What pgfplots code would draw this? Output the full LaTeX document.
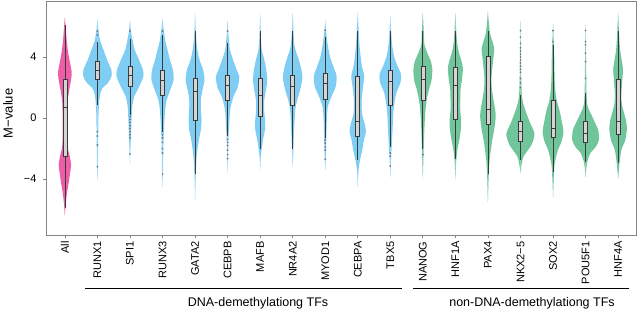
\documentclass[border=0pt]{standalone}
\usepackage{fontspec}
\setmainfont{Liberation Sans}
\usepackage{pgfplots}
\usepackage{pgfplotstable}
\pgfplotsset{compat=1.18}

\definecolor{vpink}{HTML}{EE5EA8}
\definecolor{vblue}{HTML}{7FCDF3}
\definecolor{vgreen}{HTML}{70C69A}
\definecolor{boxfill}{HTML}{D4D4D4}
\definecolor{boxline}{HTML}{3A3A3A}
\definecolor{frame}{HTML}{858585}

% violin outlines: y value, half width (in category units)
\pgfplotstableread{
y w
-6.4 0
-5.8 0.02
-5.0 0.06
-4.2 0.12
-3.6 0.16
-3.1 0.19
-2.5 0.15
-2.0 0.09
-1.3 0.07
0.0 0.07
1.0 0.08
1.8 0.13
2.5 0.19
3.0 0.21
3.6 0.16
4.3 0.10
5.0 0.06
5.8 0.03
6.6 0
}\vAll
\pgfplotstableread{
y w
-4.1 0
-3.0 0.015
-1.0 0.025
0.3 0.035
1.2 0.06
1.7 0.10
1.95 0.15
2.3 0.32
2.7 0.43
3.15 0.43
3.8 0.30
4.5 0.18
5.1 0.08
5.8 0.03
6.5 0
}\vRUNXa
\pgfplotstableread{
y w
-3.0 0
-2.0 0.015
-0.9 0.035
0.0 0.05
0.75 0.07
1.4 0.13
2.0 0.27
2.7 0.41
3.15 0.40
3.8 0.28
4.5 0.14
5.1 0.08
5.7 0.03
6.4 0
}\vSPI
\pgfplotstableread{
y w
-4.5 0
-3.5 0.015
-1.5 0.03
-0.55 0.05
0.55 0.08
1.2 0.13
1.85 0.24
2.5 0.34
3.15 0.32
3.8 0.23
4.5 0.15
5.0 0.09
5.55 0.05
6.5 0
}\vRUNXc
\pgfplotstableread{
y w
-5.4 0
-4.0 0.015
-3.0 0.035
-2.3 0.06
-1.4 0.12
-0.75 0.18
-0.1 0.20
0.55 0.18
1.2 0.18
1.85 0.23
2.5 0.29
3.15 0.25
3.8 0.14
4.5 0.07
5.5 0.025
6.9 0
}\vGATA
\pgfplotstableread{
y w
-3.6 0
-2.5 0.015
-1.2 0.03
-0.55 0.05
0.55 0.08
1.4 0.18
2.0 0.31
2.7 0.36
3.15 0.28
3.8 0.17
4.5 0.07
5.4 0.03
6.4 0
}\vCEBPB
\pgfplotstableread{
y w
-3.4 0
-2.5 0.02
-2.0 0.05
-1.4 0.09
-0.75 0.15
-0.1 0.15
0.55 0.12
1.2 0.13
1.85 0.18
2.5 0.22
3.15 0.19
3.8 0.13
4.5 0.05
5.5 0.02
6.9 0
}\vMAFB
\pgfplotstableread{
y w
-3.2 0
-2.2 0.02
-1.2 0.035
-0.55 0.05
0.55 0.08
1.2 0.14
1.85 0.23
2.6 0.30
3.15 0.27
3.8 0.19
4.5 0.08
5.1 0.04
6.9 0
}\vNR
\pgfplotstableread{
y w
-3.4 0
-2.4 0.02
-1.2 0.035
-0.1 0.05
0.74 0.08
1.4 0.19
2.05 0.32
2.75 0.35
3.37 0.25
4.0 0.15
4.9 0.07
5.6 0.03
6.4 0
}\vMYOD
\pgfplotstableread{
y w
-4.5 0
-3.5 0.02
-2.75 0.07
-2.1 0.14
-1.45 0.19
-0.9 0.25
-0.35 0.21
0.3 0.13
1.2 0.12
2.05 0.16
2.75 0.20
3.37 0.13
4.0 0.09
4.9 0.05
6.9 0
}\vCEBPA
\pgfplotstableread{
y w
-3.9 0
-2.8 0.02
-1.2 0.06
0.5 0.10
1.6 0.18
2.3 0.31
2.85 0.33
3.37 0.23
4.0 0.12
4.9 0.05
6.7 0
}\vTBX
\pgfplotstableread{
y w
-4.0 0
-2.5 0.02
-0.6 0.05
0.5 0.08
1.2 0.12
1.9 0.19
2.5 0.27
3.2 0.29
3.7 0.25
4.2 0.15
4.8 0.05
5.6 0.03
6.9 0
}\vNANOG
\pgfplotstableread{
y w
-4.0 0
-3.0 0.02
-2.1 0.06
-1.2 0.14
-0.35 0.18
0.5 0.15
1.2 0.15
1.9 0.16
2.49 0.20
3.25 0.23
3.8 0.18
4.2 0.12
4.8 0.06
5.6 0.03
6.9 0
}\vHNFa
\pgfplotstableread{
y w
-5.5 0
-4.0 0.02
-2.8 0.05
-1.6 0.12
-0.79 0.19
0.15 0.24
0.96 0.19
1.9 0.12
2.7 0.11
3.8 0.16
4.6 0.19
5.5 0.07
6.2 0.03
7.0 0
}\vPAX
\pgfplotstableread{
y w
-3.6 0
-3.0 0.04
-2.5 0.10
-1.9 0.30
-1.55 0.38
-1.0 0.43
-0.24 0.28
0.5 0.15
1.0 0.08
1.6 0.04
3.0 0.02
6.4 0
}\vNKX
\pgfplotstableread{
y w
-5.2 0
-4.0 0.02
-3.0 0.05
-2.1 0.15
-1.55 0.26
-0.9 0.32
-0.13 0.26
0.5 0.20
1.0 0.13
1.6 0.08
2.5 0.05
3.8 0.04
5.0 0.02
6.2 0
}\vSOX
\pgfplotstableread{
y w
-3.9 0
-3.2 0.03
-2.8 0.06
-2.3 0.15
-1.9 0.31
-1.45 0.41
-0.8 0.39
-0.35 0.30
0.2 0.18
0.6 0.09
0.9 0.05
1.6 0.03
3.0 0.02
6.2 0
}\vPOU
\pgfplotstableread{
y w
-4.0 0
-3.0 0.04
-2.1 0.10
-1.45 0.22
-0.7 0.27
-0.13 0.24
0.5 0.16
1.0 0.11
1.6 0.10
2.5 0.13
3.2 0.15
3.8 0.11
4.5 0.06
5.5 0.03
6.9 0
}\vHNFd

\newcommand{\violin}[3]{%
  \addplot[fill=#2, draw=none, smooth, tension=0.45, forget plot] table[x expr=#1+\thisrow{w}, y=y] {#3};
  \addplot[fill=#2, draw=none, smooth, tension=0.45, forget plot] table[x expr=#1-\thisrow{w}, y=y] {#3};
}
% position, lower whisker, lower quartile, median, upper quartile, upper whisker
\newcommand{\bx}[6]{%
  \addplot[forget plot, boxline, line width=0.7pt] table[row sep=\\, x expr=#1+\thisrow{d}, y=y] {d y\\ 0 #2\\ 0 #6\\};
  \addplot[forget plot, draw=boxline, fill=boxfill, line width=0.6pt] table[row sep=\\, x expr=#1+\thisrow{d}, y=y] {d y\\ -0.0625 #3\\ 0.0625 #3\\ 0.0625 #5\\ -0.0625 #5\\ -0.0625 #3\\} -- cycle;
  \addplot[forget plot, boxline, line width=0.7pt] table[row sep=\\, x expr=#1+\thisrow{d}, y=y] {d y\\ -0.0625 #4\\ 0.0625 #4\\};
}
\newcommand{\outl}[1]{%
  \addplot[forget plot, only marks, mark=*, mark size=0.65pt, color=black!55] coordinates {#1};
}

\begin{document}
\begin{tikzpicture}
\useasboundingbox (0,0) rectangle (638bp,311bp);
\begin{axis}[
  at={(46bp,76bp)}, anchor=south west,
  scale only axis, width=590bp, height=234bp,
  xmin=-0.58, xmax=17.55, ymin=-7.67, ymax=7.67,
  axis line style={frame, line width=0.9pt},
  tick style={frame, line width=0.7pt},
  tick align=outside, tick pos=left, major tick length=3bp,
  xtick={0,...,17},
  xticklabels={All,RUNX1,SPI1,RUNX3,GATA2,CEBPB,MAFB,NR4A2,MYOD1,CEBPA,TBX5,NANOG,HNF1A,PAX4,NKX2−5,SOX2,POU5F1,HNF4A},
  x tick label style={rotate=90, anchor=east, font=\fontsize{11bp}{11bp}\selectfont},
  ytick={-4,0,4}, yticklabels={−4,0,4},
  y tick label style={font=\fontsize{11bp}{11bp}\selectfont, xshift=-3bp},
  ylabel={M−value},
  ylabel style={at={(axis description cs:-0.0644,0.52)}, anchor=center, font=\fontsize{13bp}{13bp}\selectfont},
  clip=true,
]
\violin{0}{vpink}{\vAll}
\violin{1}{vblue}{\vRUNXa}
\violin{2}{vblue}{\vSPI}
\violin{3}{vblue}{\vRUNXc}
\violin{4}{vblue}{\vGATA}
\violin{5}{vblue}{\vCEBPB}
\violin{6}{vblue}{\vMAFB}
\violin{7}{vblue}{\vNR}
\violin{8}{vblue}{\vMYOD}
\violin{9}{vblue}{\vCEBPA}
\violin{10}{vblue}{\vTBX}
\violin{11}{vgreen}{\vNANOG}
\violin{12}{vgreen}{\vHNFa}
\violin{13}{vgreen}{\vPAX}
\violin{14}{vgreen}{\vNKX}
\violin{15}{vgreen}{\vSOX}
\violin{16}{vgreen}{\vPOU}
\violin{17}{vgreen}{\vHNFd}

\outl{(1,5.7)(1,5.45)(1,-0.9)(1,-1.18)(1,-1.77)(1,-3.2)}
\outl{(2,5.7)(2,0.1)(2,-0.1)(2,-0.3)(2,-0.5)(2,-0.7)(2,-0.9)(2,-1.1)(2,-1.3)(2,-2.36)}
\outl{(3,5.7)(3,-1.1)(3,-1.3)(3,-1.6)(3,-2.0)(3,-2.3)(3,-3.67)}
\outl{(5,5.7)(5,-1.4)(5,-1.6)(5,-1.8)(5,-2.1)(5,-2.4)(5,-2.66)}
\outl{(8,5.75)(8,-1.45)(8,-1.65)(8,-1.9)(8,-2.1)(8,-2.7)}
\outl{(10,-2.3)(10,-2.5)(10,-3.15)}
\outl{(11,-2.4)}
\outl{(14,5.73)(14,5.3)(14,4.9)(14,4.6)(14,4.4)(14,4.2)(14,4.0)(14,3.8)(14,3.6)(14,3.4)(14,3.2)(14,3.0)(14,2.6)(14,2.3)(14,2.0)}
\outl{(15,5.73)(15,5.0)}
\outl{(16,5.73)(16,5.0)(16,4.8)(16,4.25)(16,3.7)(16,2.6)}

\bx{0}{-5.9}{-2.54}{0.68}{2.56}{6.1}
\bx{1}{0.85}{2.54}{3.1}{3.69}{5.0}
\bx{2}{0.2}{2.1}{2.8}{3.37}{5.16}
\bx{3}{-0.9}{1.5}{2.49}{3.15}{5.44}
\bx{4}{-3.67}{-0.13}{1.77}{2.6}{5.73}
\bx{5}{-1.18}{1.18}{2.16}{2.82}{4.9}
\bx{6}{-2.0}{0.09}{1.5}{2.6}{5.73}
\bx{7}{-2.0}{0.85}{2.05}{2.82}{5.73}
\bx{8}{-1.33}{1.22}{2.27}{2.93}{5.29}
\bx{9}{-2.75}{-1.18}{-0.24}{2.71}{5.73}
\bx{10}{-1.88}{0.85}{2.38}{3.1}{5.73}
\bx{11}{-2.0}{1.18}{2.54}{3.37}{5.73}
\bx{12}{-2.71}{-0.09}{2.16}{3.32}{5.73}
\bx{13}{-3.67}{-0.42}{0.59}{4.02}{5.73}
\bx{14}{-2.75}{-1.55}{-0.9}{-0.24}{1.5}
\bx{15}{-3.52}{-1.27}{-0.68}{1.18}{4.79}
\bx{16}{-2.86}{-1.62}{-1.0}{-0.24}{1.62}
\bx{17}{-2.97}{-1.07}{-0.24}{2.54}{5.73}
\end{axis}
\draw[black, line width=0.9pt] (85bp,23bp) -- (402bp,23bp);
\draw[black, line width=0.9pt] (413bp,23bp) -- (629bp,23bp);
\node[anchor=base, inner sep=0pt, font=\fontsize{12.5bp}{12.5bp}\selectfont] at (258bp,5bp) {DNA-demethylationg TFs};
\node[anchor=base, inner sep=0pt, font=\fontsize{12.5bp}{12.5bp}\selectfont] at (532bp,5bp) {non-DNA-demethylationg TFs};
\end{tikzpicture}
\end{document}
